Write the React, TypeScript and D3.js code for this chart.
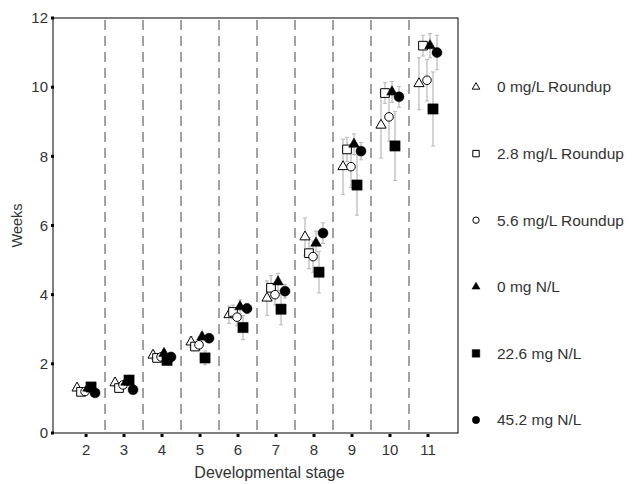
import * as d3 from 'd3'

const stages = [2, 3, 4, 5, 6, 7, 8, 9, 10, 11]
const yTicks = [0, 2, 4, 6, 8, 10, 12]

const seriesNames = [
  '0 mg/L Roundup',
  '2.8 mg/L Roundup',
  '5.6 mg/L Roundup',
  '0 mg N/L',
  '22.6 mg N/L',
  '45.2 mg N/L',
]

const meanRoundup0 = [1.3, 1.45, 2.25, 2.63, 3.42, 3.9, 5.67, 7.7, 8.9, 10.1]
const meanRoundup28 = [1.19, 1.3, 2.17, 2.5, 3.5, 4.2, 5.2, 8.2, 9.83, 11.2]
const meanRoundup56 = [1.2, 1.39, 2.2, 2.55, 3.35, 4.0, 5.1, 7.7, 9.14, 10.2]
const meanN0 = [1.3, 1.47, 2.3, 2.78, 3.65, 4.37, 5.49, 8.35, 9.86, 11.2]
const meanN226 = [1.33, 1.53, 2.1, 2.17, 3.05, 3.58, 4.65, 7.17, 8.3, 9.37]
const meanN452 = [1.16, 1.25, 2.2, 2.74, 3.6, 4.1, 5.78, 8.15, 9.72, 11.0]

const errRoundup0 = [0.08, 0.1, 0.12, 0.15, 0.25, 0.5, 0.55, 0.8, 0.95, 0.75]
const errRoundup28 = [0.08, 0.1, 0.1, 0.12, 0.2, 0.35, 0.45, 0.35, 0.3, 0.3]
const errRoundup56 = [0.08, 0.1, 0.1, 0.15, 0.25, 0.3, 0.45, 0.6, 0.7, 0.6]
const errN0 = [0.06, 0.08, 0.1, 0.12, 0.2, 0.25, 0.35, 0.3, 0.3, 0.35]
const errN226 = [0.1, 0.1, 0.12, 0.2, 0.35, 0.45, 0.6, 0.87, 1.0, 1.07]
const errN452 = [0.06, 0.08, 0.1, 0.12, 0.15, 0.2, 0.3, 0.25, 0.3, 0.5]

const means = [meanRoundup0, meanRoundup28, meanRoundup56, meanN0, meanN226, meanN452]
const errs = [errRoundup0, errRoundup28, errRoundup56, errN0, errN226, errN452]

const shapes = [
  d3.symbolTriangle,
  d3.symbolSquare,
  d3.symbolCircle,
  d3.symbolTriangle,
  d3.symbolSquare,
  d3.symbolCircle,
]
const filled = [false, false, false, true, true, true]
const sizes = [45, 75, 58, 50, 105, 78]
const offsets = [-9, -5, -1, 2, 5, 9]

const width = 633
const height = 484
const left = 53
const right = 458
const top = 18
const bottom = 433

const x = d3.scaleLinear().domain([1.13, 11.79]).range([left, right])
const y = d3.scaleLinear().domain([0, 12]).range([bottom, top])

const font = 'Arial, "Liberation Sans", sans-serif'

export default function App() {
  const dividers = d3.range(2.5, 11, 1)
  const legendY = d3.scaleLinear().domain([0, 5]).range([87, 420])

  return (
    <svg width={width} height={height} style={{ position: 'absolute', left: 0, top: 0 }}>
      <rect width={width} height={height} fill="#fff" />

      {dividers.map(d => (
        <line key={d} x1={x(d)} x2={x(d)} y1={top + 2} y2={bottom}
          stroke="#8a8a8a" strokeWidth={1.6} strokeDasharray="10,6" />
      ))}

      <rect x={left} y={top} width={right - left} height={bottom - top}
        fill="none" stroke="#000" strokeWidth={1} />

      {yTicks.map(t => (
        <g key={t}>
          <rect x={left - 2} y={y(t) - 1.5} width={3} height={3} fill="#000" />
          <text x={48} y={y(t)} dy="0.35em" textAnchor="end"
            fontFamily={font} fontSize={15} fill="#333">{t}</text>
        </g>
      ))}
      {stages.map(s => (
        <g key={s}>
          <rect x={x(s) - 1.5} y={bottom + 1} width={3} height={3} fill="#000" />
          <text x={x(s)} y={bottom + 22} textAnchor="middle"
            fontFamily={font} fontSize={15} fill="#333">{s}</text>
        </g>
      ))}

      <text transform={`translate(22,${(top + bottom) / 2}) rotate(-90)`} textAnchor="middle"
        fontFamily={font} fontSize={14.5} fill="#333">Weeks</text>
      <text x={(left + right) / 2 + 14} y={478} textAnchor="middle"
        fontFamily={font} fontSize={16} fill="#333">Developmental stage</text>

      {means.map((m, i) => (
        <g key={'e' + i}>
          {m.map((v, j) => {
            const cx = x(stages[j]) + offsets[i]
            const e = errs[i][j]
            return (
              <g key={j}>
                <line x1={cx} x2={cx} y1={y(v - e)} y2={y(v + e)} stroke="#b8b8b8" strokeWidth={1.2} />
                <line x1={cx - 2} x2={cx + 2} y1={y(v - e)} y2={y(v - e)} stroke="#b8b8b8" strokeWidth={1} />
                <line x1={cx - 2} x2={cx + 2} y1={y(v + e)} y2={y(v + e)} stroke="#b8b8b8" strokeWidth={1} />
              </g>
            )
          })}
        </g>
      ))}

      {means.map((m, i) => (
        <g key={'p' + i}>
          {m.map((v, j) => (
            <path key={j}
              d={d3.symbol().type(shapes[i]).size(sizes[i])() as string}
              transform={`translate(${x(stages[j]) + offsets[i]},${y(v)})`}
              fill={filled[i] ? '#000' : '#fff'}
              stroke="#000" strokeWidth={filled[i] ? 0.5 : 1} />
          ))}
        </g>
      ))}

      {seriesNames.map((n, i) => (
        <g key={n} transform={`translate(476,${legendY(i)})`}>
          <path d={d3.symbol().type(shapes[i]).size(sizes[i] * 0.55)() as string}
            fill={filled[i] ? '#000' : '#fff'} stroke="#000" strokeWidth={filled[i] ? 0.5 : 1} />
          <text x={21} dy="0.35em" fontFamily={font} fontSize={15.5} fill="#333">{n}</text>
        </g>
      ))}
    </svg>
  )
}
